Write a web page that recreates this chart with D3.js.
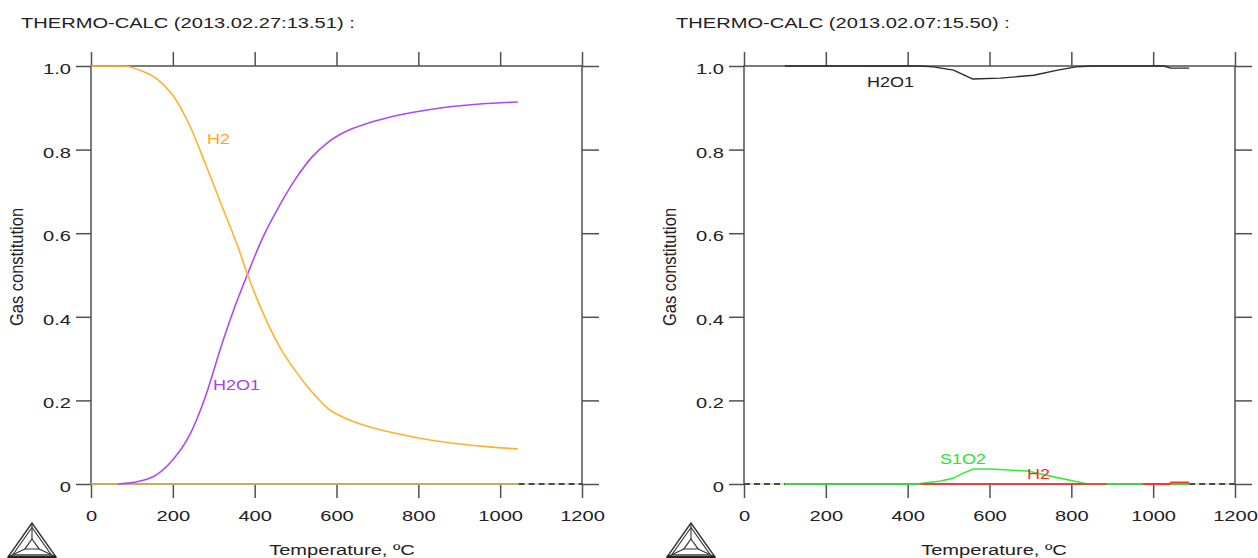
<!DOCTYPE html>
<html>
<head>
<meta charset="utf-8">
<script src="https://cdn.jsdelivr.net/npm/d3@7"></script>
<style>
  body { margin: 0; background: #fff; }
  svg { display: block; }
</style>
</head>
<body>
<script>
// ---- axis ticks shared by both panels ----
const tempTicks = [0, 200, 400, 600, 800, 1000, 1200];
const fracTicks = [0, 0.2, 0.4, 0.6, 0.8, 1.0];
const fracTickLabels = ["0", "0.2", "0.4", "0.6", "0.8", "1.0"];

// ---- left panel: H2 / H2O1 ----
const leftTitle = "THERMO-CALC (2013.02.27:13.51) :";
const h2T = [0, 80, 120, 160, 200, 240, 280, 320, 360, 383, 420, 460, 500, 540, 580, 620, 680, 750, 800, 880, 960, 1043];
const h2Y = [1.0, 1.0, 0.990, 0.970, 0.930, 0.860, 0.765, 0.665, 0.565, 0.500, 0.410, 0.330, 0.270, 0.220, 0.180, 0.158, 0.137, 0.120, 0.110, 0.098, 0.090, 0.084];
const h2o1T = [66, 120, 160, 200, 240, 280, 320, 350, 383, 420, 460, 500, 540, 580, 620, 680, 750, 850, 950, 1043];
const h2o1Y = [0, 0.007, 0.022, 0.058, 0.115, 0.210, 0.335, 0.420, 0.503, 0.590, 0.665, 0.730, 0.782, 0.818, 0.842, 0.864, 0.882, 0.899, 0.909, 0.914];
const leftZeroT = [0, 1045];
const leftZeroY = [0, 0];
const leftDashT = [1045, 1200];

// ---- right panel: H2O1 / S1O2 / H2 ----
const rightTitle = "THERMO-CALC (2013.02.07:15.50) :";
const wT = [100, 431, 463, 512, 558, 627, 708, 767, 811, 850, 1026, 1043, 1088];
const wY = [1.0, 1.0, 0.998, 0.990, 0.969, 0.971, 0.978, 0.990, 0.998, 1.0, 1.0, 0.995, 0.995];
const sT = [100, 420, 481, 512, 536, 561, 602, 693, 757, 806, 840, 1088];
const sY = [0, 0, 0.007, 0.014, 0.026, 0.036, 0.036, 0.031, 0.017, 0.007, 0, 0];
const rA_T = [431, 888];
const rA_Y = [0, 0];
const rB_T = [975, 1040, 1044, 1088];
const rB_Y = [0, 0, 0.004, 0.004];
const rightDashT = [[0, 100], [1088, 1200]];

const W = 1258, H = 558;
const SX = 1.34;                 // horizontal stretch of all lettering
const FONT = "'Liberation Sans', Arial, sans-serif";
const AXIS = "#505050";

const svg = d3.select("body").append("svg").attr("width", W).attr("height", H);

function txt(g, x, y, s, opt = {}) {
  return g.append("text")
    .attr("transform", `translate(${x},${y}) scale(${opt.sx || SX},1)` + (opt.rot ? ` rotate(${opt.rot})` : ""))
    .attr("text-anchor", opt.anchor || "start")
    .attr("font-family", FONT)
    .attr("font-size", opt.size || 15)
    .attr("fill", opt.fill || "#222")
    .text(s);
}

function logo(cx, top, bottom, hw) {
  const g = svg.append("g").attr("fill", "none").attr("stroke", "#333");
  const A = [cx, top], B = [cx - hw, bottom], C = [cx + hw, bottom];
  const G = [(A[0] + B[0] + C[0]) / 3, (A[1] + B[1] + C[1]) / 3];
  const shrink = (P, k) => [G[0] + (P[0] - G[0]) * k, G[1] + (P[1] - G[1]) * k];
  const tri = k => [shrink(A, k), shrink(B, k), shrink(C, k)];
  const line = d3.line();
  [1, 0.8, 0.3].forEach((k, i) => {
    g.append("path").attr("d", line(tri(k)) + "Z").attr("stroke-width", i === 0 ? 1.4 : 1.1);
  });
  const inner = tri(0.3), outer = tri(1);
  inner.forEach((p, i) => g.append("path").attr("d", line([p, outer[i]])).attr("stroke-width", 1.1));
  g.append("path").attr("d", line([B, C])).attr("stroke-width", 3).attr("stroke", "#222");
}

function panel(o) {
  const g = svg.append("g");
  const x = d3.scaleLinear().domain([0, 1200]).range([o.x0, o.x1]);
  const y = d3.scaleLinear().domain([0, 1]).range([484, 66]);

  const styleAxis = sel => {
    sel.select(".domain").remove();
    sel.selectAll(".tick line").attr("stroke", AXIS).attr("stroke-width", 1.5);
  };

  // frame
  g.append("rect").attr("x", o.x0).attr("y", y(1)).attr("width", o.x1 - o.x0).attr("height", y(0) - y(1))
    .attr("fill", "none").attr("stroke", AXIS).attr("stroke-width", 1.5);

  // bottom axis with labels
  const bx = g.append("g").attr("transform", `translate(0,${y(0)})`)
    .call(d3.axisBottom(x).tickValues(tempTicks).tickSize(14).tickPadding(12).tickFormat(d3.format("d")));
  styleAxis(bx);
  bx.selectAll("text").attr("font-family", FONT).attr("font-size", 15).attr("fill", "#222")
    .attr("dy", "0.71em").attr("transform", `scale(${SX},1)`);

  // top axis, ticks only
  const tx = g.append("g").attr("transform", `translate(0,${y(1)})`)
    .call(d3.axisTop(x).tickValues(tempTicks).tickSize(14).tickFormat(""));
  styleAxis(tx);

  // left axis with labels
  const ly = g.append("g").attr("transform", `translate(${o.x0},0)`)
    .call(d3.axisLeft(y).tickValues(fracTicks).tickSize(15).tickFormat((d, i) => fracTickLabels[i]));
  styleAxis(ly);
  ly.selectAll("text").attr("font-family", FONT).attr("font-size", 15).attr("fill", "#222")
    .attr("x", -20 / SX).attr("dy", "0.5em").attr("transform", `scale(${SX},1)`);

  // right axis, ticks only
  const ry = g.append("g").attr("transform", `translate(${o.x1},0)`)
    .call(d3.axisRight(y).tickValues(fracTicks).tickSize(17).tickFormat(""));
  styleAxis(ry);

  // titles
  txt(g, o.titleX, 28, o.title);
  txt(g, o.xLabelX, 555, "Temperature, ºC", { anchor: "middle" });
  txt(g, o.x0 - 68, 267, "Gas constitution", { anchor: "middle", rot: -90, sx: 1.12, size: 16.5 });

  const line = d3.line().x(d => x(d[0])).y(d => y(d[1]));
  const draw = (T, V, color, w = 1.5, curve = d3.curveLinear) =>
    g.append("path").datum(T.map((t, i) => [t, V[i]]))
      .attr("d", line.curve(curve)).attr("fill", "none")
      .attr("stroke", color).attr("stroke-width", w).attr("stroke-linejoin", "round");
  const dashed = (t0, t1) => {
    const seg = [[t0, 0], [t1, 0]];
    g.append("path").datum(seg).attr("d", line.curve(d3.curveLinear))
      .attr("stroke", "#e4ddb8").attr("stroke-width", 2);
    g.append("path").datum(seg).attr("d", line)
      .attr("stroke", "#4a4a4a").attr("stroke-width", 2).attr("stroke-dasharray", "6,4");
  };
  return { g, x, y, draw, dashed };
}

// ---------- left panel ----------
const L = panel({ x0: 91, x1: 582, title: leftTitle, titleX: 21, xLabelX: 342 });
L.draw(leftZeroT, leftZeroY, "#c8ad5e", 2);
L.dashed(leftDashT[0], leftDashT[1]);
L.draw(h2o1T, h2o1Y, "#a94cf5", 1.6, d3.curveMonotoneX);
L.draw(h2T, h2Y, "#ffb02e", 1.6, d3.curveMonotoneX);
txt(L.g, 207, 144, "H2", { fill: "#ffa51f", sx: 1.2 });
txt(L.g, 213, 390, "H2O1", { fill: "#a442f0", sx: 1.2 });

// ---------- right panel ----------
const R = panel({ x0: 744, x1: 1235, title: rightTitle, titleX: 676, xLabelX: 994 });
rightDashT.forEach(s => R.dashed(s[0], s[1]));
R.draw(sT, sY, "#3be83b", 1.6);
R.draw(rA_T, rA_Y, "#ff3434", 1.6);
R.draw(rB_T, rB_Y, "#ff3434", 1.8);
R.draw(wT, wY, "#2a2a2a", 1.4);
txt(R.g, 867, 87, "H2O1", { fill: "#222", sx: 1.2 });
txt(R.g, 940, 464, "S1O2", { fill: "#2ee02e", sx: 1.2 });
txt(R.g, 1027, 479, "H2", { fill: "#ff2a2a", sx: 1.2 });

// ---------- logos ----------
logo(32, 523, 557, 24);
logo(691, 523, 557, 24);
</script>
</body>
</html>
